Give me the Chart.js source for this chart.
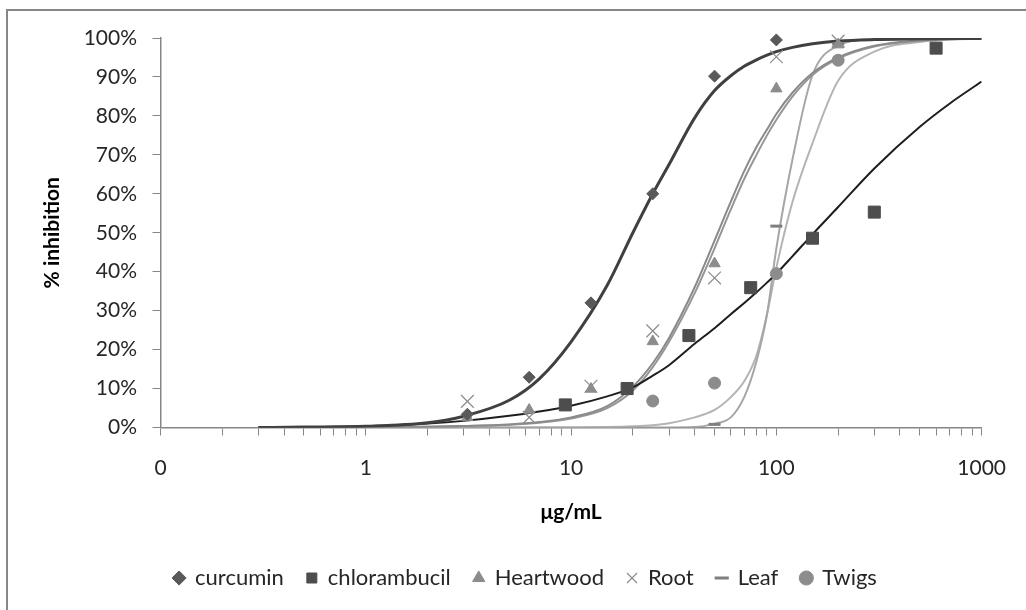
<!DOCTYPE html>
<html>
<head>
<meta charset="utf-8">
<script src="https://cdn.jsdelivr.net/npm/chart.js@4.4.0/dist/chart.umd.min.js"></script>
<style>
  html, body { margin: 0; padding: 0; background: #fff; }
  #wrap { position: relative; width: 1026px; height: 610px; overflow: hidden; }
  #frame { position: absolute; left: 6px; top: 9px; width: 1040px; height: 640px; border: 2px solid #878787; }
  #myChart { position: absolute; left: 0; top: 0; }
</style>
</head>
<body>
<div id="wrap">
  <div id="frame"></div>
  <canvas id="myChart" width="1026" height="610"></canvas>
</div>
<script>
// measured points (% inhibition vs concentration, ug/mL)
var curcuminX = [3.125, 6.25, 12.5, 25, 50, 100];
var curcuminY = [3.4, 12.9, 32, 60, 90.2, 99.5];
var chlorX = [9.375, 18.75, 37.5, 75, 150, 300, 600];
var chlorY = [5.8, 10, 23.6, 35.9, 48.6, 55.3, 97.4];
var heartX = [3.125, 6.25, 12.5, 25, 50, 100, 200];
var heartY = [2.6, 4.5, 9.9, 22.1, 42.1, 87, 98.3];
var rootX = [3.125, 6.25, 12.5, 25, 50, 100, 200];
var rootY = [6.7, 2.6, 10.6, 24.8, 38.4, 95.2, 99.2];
var leafX = [50, 100, 200];
var leafY = [0.8, 51.7, 98.5];
var twigsX = [25, 50, 100, 200];
var twigsY = [6.8, 11.4, 39.5, 94.3];

// fitted curves at these concentrations
var curveX   = [0.3, 0.5, 1, 2, 3, 5, 7, 10, 15, 20, 25, 30, 40, 50, 60, 70, 80, 90, 100, 120, 150, 200, 300, 500, 700, 1000];
var curcuminFit = [0, 0.1, 0.3, 1.2, 2.9, 7, 12.5, 22, 36.5, 50, 60, 67.5, 79.5, 86.5, 90.3, 92.8, 94.4, 95.6, 96.5, 97.6, 98.5, 99.2, 99.6, 99.8, 99.9, 99.9];
var chlorFit    = [0, 0.1, 0.3, 1.0, 1.7, 3.0, 4.1, 5.6, 8.0, 10.3, 13.3, 16, 21.5, 25.5, 29.1, 32, 34.7, 37.2, 39.5, 44, 49.6, 56.6, 66.5, 77.2, 83.2, 88.8];
var heartFit    = [0, 0, 0.1, 0.2, 0.4, 0.8, 1.4, 2.6, 5.5, 10.5, 16.5, 23, 36, 48, 58, 66, 72, 76.5, 80.5, 86, 91, 95, 98, 99.4, 99.7, 99.9];
var rootFit     = [0, 0, 0.1, 0.2, 0.4, 0.7, 1.2, 2.3, 5, 9.5, 15.5, 22, 34.5, 46, 56, 64, 70, 75, 79, 85, 90.5, 94.7, 97.8, 99.3, 99.7, 99.9];
var leafFit     = [0, 0, 0, 0, 0, 0, 0, 0, 0, 0, 0, 0, 0.1, 1, 2.6, 8, 17, 29, 46, 69, 90.5, 98, 99.7, 99.9, 100, 100];
var twigsFit    = [0, 0, 0, 0, 0, 0, 0, 0, 0.1, 0.3, 0.6, 1.1, 2.6, 4.5, 7.8, 12, 18.5, 29, 41, 58, 73, 89, 96.5, 99, 99.6, 99.8];

var xMajor = [0.1, 1, 10, 100, 1000];
var xMajorLabels = ['0', '1', '10', '100', '1000'];

function pts(xs, ys) {
  return xs.map(function (x, i) { return {x: x, y: ys[i]}; });
}

function marker(label, xs, ys, style, radius, color, bw) {
  return {
    label: label, data: pts(xs, ys), showLine: false, clip: false,
    pointStyle: style, pointRadius: radius, pointHoverRadius: radius,
    backgroundColor: color, borderColor: color, borderWidth: bw
  };
}

function fitLine(ys, color, width) {
  return {
    label: 'fit', data: pts(curveX, ys), showLine: true,
    pointRadius: 0, pointHoverRadius: 0, borderColor: color, backgroundColor: color,
    borderWidth: width, cubicInterpolationMode: 'monotone', fill: false
  };
}

// minor ticks 2..9 in every decade
var xTicks = [];
for (var d = 0; d < xMajor.length; d++) {
  xTicks.push(xMajor[d]);
  if (d < xMajor.length - 1) {
    for (var k = 2; k <= 9; k++) xTicks.push(+(xMajor[d] * k).toPrecision(3));
  }
}

var font = 'Lato';
var axisGray = '#868686';

var legendShift = {
  id: 'legendShift',
  afterLayout: function (chart) {
    chart.legend.left += 34;
    chart.legend.right += 34;
  }
};

var ctx = document.getElementById('myChart').getContext('2d');
var chart = new Chart(ctx, {
  type: 'scatter',
  data: {
    datasets: [
      marker('curcumin', curcuminX, curcuminY, 'rectRot', 6, '#595959', 1),
      marker('chlorambucil', chlorX, chlorY, 'rect', 8.5, '#4d4d4d', 1),
      marker('Heartwood', heartX, heartY, 'triangle', 6.5, '#8c8c8c', 1),
      marker('Root', rootX, rootY, 'crossRot', 9, '#8c8c8c', 1.2),
      marker('Leaf', leafX, leafY, 'line', 6, '#7f7f7f', 3),
      marker('Twigs', twigsX, twigsY, 'circle', 6, '#8c8c8c', 1),
      fitLine(curcuminFit, '#404040', 3),
      fitLine(chlorFit, '#1e1e1e', 2),
      fitLine(heartFit, '#8a8a8a', 2),
      fitLine(rootFit, '#969696', 2),
      fitLine(leafFit, '#a6a6a6', 2),
      fitLine(twigsFit, '#b4b4b4', 2)
    ]
  },
  plugins: [legendShift],
  options: {
    responsive: false,
    animation: false,
    layout: { padding: { left: 0, right: 43, top: 38, bottom: 11 } },
    plugins: {
      legend: {
        position: 'bottom',
        labels: {
          usePointStyle: true, boxWidth: 10, boxHeight: 10, padding: 23,
          color: '#262626', font: { family: font, size: 22 },
          filter: function (item) { return item.datasetIndex < 6; }
        }
      },
      tooltip: { enabled: false }
    },
    scales: {
      x: {
        type: 'logarithmic', min: 0.1, max: 1000,
        afterBuildTicks: function (s) {
          s.ticks = xTicks.map(function (v) { return {value: v}; });
        },
        afterFit: function (s) { s.height = 116.5; },
        ticks: {
          autoSkip: false, maxRotation: 0, padding: 20,
          color: '#262626', font: { family: font, size: 21 },
          callback: function (v) {
            var i = xMajor.indexOf(v);
            return i >= 0 ? xMajorLabels[i] : '';
          }
        },
        grid: { drawOnChartArea: false, color: axisGray, tickLength: 8 },
        border: { color: axisGray, width: 1.5 },
        title: {
          display: true, text: 'μg/mL', color: '#000',
          font: { family: font, size: 21, weight: 'bold' },
          padding: { top: 0, bottom: 19 }
        }
      },
      y: {
        min: 0, max: 100,
        afterFit: function (s) { s.width = 160.5; },
        ticks: {
          stepSize: 10, padding: 15.5,
          color: '#262626', font: { family: font, size: 21 },
          callback: function (v) { return v + '%'; }
        },
        grid: { drawOnChartArea: false, color: axisGray, tickLength: 8 },
        border: { color: axisGray, width: 1.5 },
        title: {
          display: true, text: '% inhibition', color: '#000',
          font: { family: font, size: 21, weight: 'bold' },
          padding: { top: 40, bottom: 0 }
        }
      }
    }
  }
});
</script>
</body>
</html>
